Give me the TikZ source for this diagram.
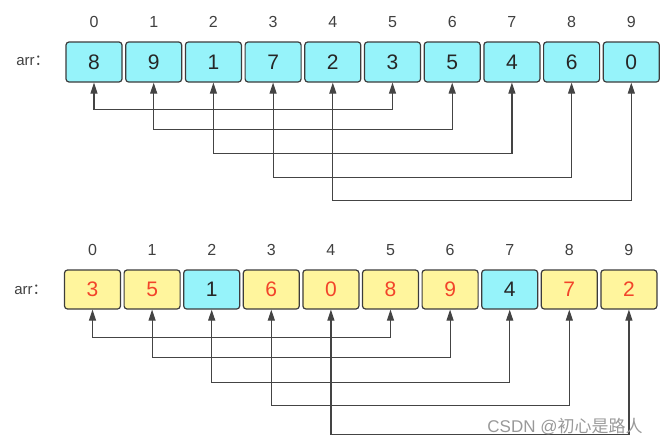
\documentclass[tikz,border=0pt]{standalone}
\usepackage{fontspec}
\setmainfont{Liberation Sans}
\newfontfamily\cjkfont{Noto Sans CJK SC}
\usetikzlibrary{arrows.meta}
\definecolor{cyanbox}{HTML}{96F3FA}
\definecolor{yellowbox}{HTML}{FFF59D}
\definecolor{edgegray}{HTML}{3C3C3C}
\definecolor{redtxt}{HTML}{F2442A}
\definecolor{linegray}{HTML}{444444}
\tikzset{
  cell/.style={draw=edgegray, line width=1.2pt, rounded corners=3pt, minimum width=56pt, minimum height=40pt, inner sep=0pt, font=\fontsize{21}{21}\selectfont, text=black!85},
  cyancell/.style={cell, fill=cyanbox},
  yellowcell/.style={cell, fill=yellowbox, text=redtxt},
  idx/.style={font=\fontsize{16}{16}\selectfont, text=black!75},
  lbl/.style={font=\fontsize{15}{15}\selectfont, text=black!75},
  link/.style={draw=linegray, line width=1.2pt, {Triangle[length=11pt,width=7pt]}-{Triangle[length=11pt,width=7pt]}},
}
\begin{document}
\begin{tikzpicture}[x=1pt,y=-1pt]
\useasboundingbox (0,0) rectangle (667,447);
% top row
\node[lbl] (ta) at (33,61) {arr{\cjkfont ：}};
\foreach \v [count=\i from 0] in {8,9,1,7,2,3,5,4,6,0} {
  \node[cyancell] (t\i) at (94+59.7*\i,62) {\v};
  \node[idx] (ti\i) at (94+59.7*\i,22) {\i};
}
\draw[link] (t0.south) -- ++(0,27) -| (t5.south);
\draw[link] (t1.south) -- ++(0,47) -| (t6.south);
\draw[link] (t2.south) -- ++(0,71) -| (t7.south);
\draw[link] (t3.south) -- ++(0,95) -| (t8.south);
\draw[link] (t4.south) -- ++(0,118) -| (t9.south);
% bottom row
\node[lbl] (ba) at (31,290) {arr{\cjkfont ：}};
\foreach \v/\s [count=\i from 0] in {3/yellowcell,5/yellowcell,1/cyancell,6/yellowcell,0/yellowcell,8/yellowcell,9/yellowcell,4/cyancell,7/yellowcell,2/yellowcell} {
  \node[\s, minimum height=39pt] (b\i) at (92.5+59.6*\i,289.5) {\v};
  \node[idx] (bi\i) at (92.5+59.6*\i,250) {\i};
}
\draw[link] (b0.south) -- ++(0,28) -| (b5.south);
\draw[link] (b1.south) -- ++(0,48) -| (b6.south);
\draw[link] (b2.south) -- ++(0,73) -| (b7.south);
\draw[link] (b3.south) -- ++(0,96) -| (b8.south);
\draw[link] (b4.south) -- ++(0,125) -| (b9.south);
% watermark
\node[font=\fontsize{17}{17}\selectfont, text=black!40] (wm) at (565,427) {CSDN @{\cjkfont 初心是路人}};
\end{tikzpicture}
\end{document}
